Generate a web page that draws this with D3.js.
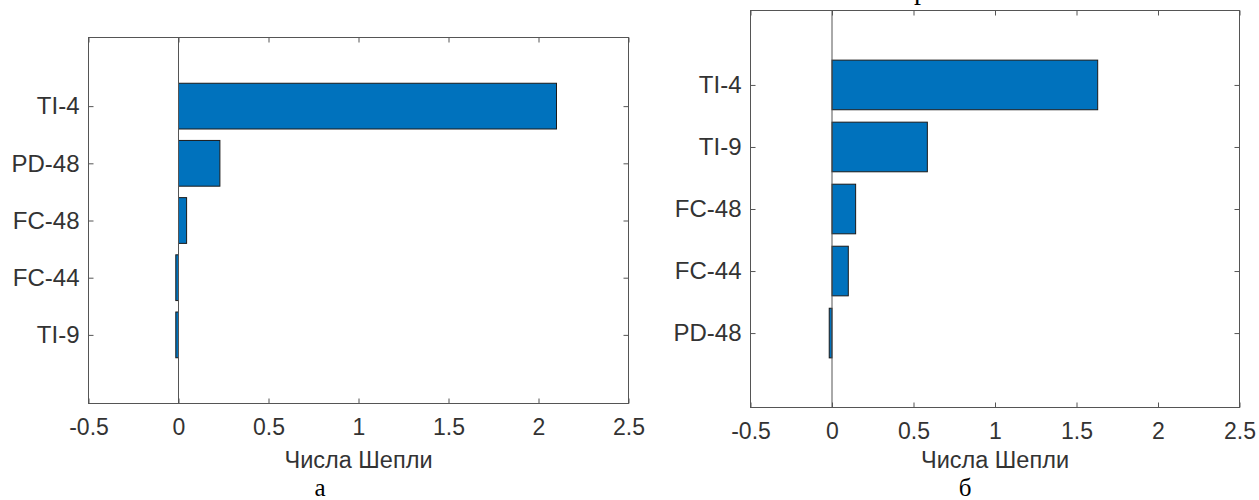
<!DOCTYPE html>
<html>
<head>
<meta charset="utf-8">
<script src="https://cdn.jsdelivr.net/npm/d3@7"></script>
<style>
  html, body { margin: 0; padding: 0; background: #fff; }
  svg { display: block; }
</style>
</head>
<body>
<svg id="chart" width="1259" height="500"></svg>
<script>
// Shapley values, panel "а"
const categoriesA = ["TI-4", "PD-48", "FC-48", "FC-44", "TI-9"];
const valuesA = [2.10, 0.23, 0.045, -0.015, -0.015];

// Shapley values, panel "б"
const categoriesB = ["TI-4", "TI-9", "FC-48", "FC-44", "PD-48"];
const valuesB = [1.63, 0.585, 0.145, 0.10, -0.017];

const xTicks = [-0.5, 0, 0.5, 1, 1.5, 2, 2.5];
const xTickLabels = ["-0.5", "0", "0.5", "1", "1.5", "2", "2.5"];
const xDomain = [-0.5, 2.5];
const axisTitle = "Числа Шепли";
const captions = ["а", "б"];

const svg = d3.select("#chart");
const axisColor = "#555";
const textColor = "#333";
const barFill = "#0072BD";
const sansFont = "'Liberation Sans', Arial, sans-serif";
const serifFont = "'Liberation Serif', 'Times New Roman', serif";

// Fragment of the page heading above the right panel
svg.append("text")
  .attr("x", 914).attr("y", -1)
  .attr("font-family", serifFont).attr("font-size", 28)
  .attr("fill", "#000")
  .text("р");

function drawPanel(box, categories, values, caption) {
  const g = svg.append("g");
  const n = categories.length;
  const x = d3.scaleLinear().domain(xDomain).range([box.left, box.right]);
  const y = d3.scaleLinear().domain([1 - 1.2, n + 1.2]).range([box.top, box.bottom]);
  const idx = d3.range(1, n + 1);
  const band = 0.8;

  // bars
  g.selectAll("rect.bar").data(values).join("rect")
    .attr("class", "bar")
    .attr("x", d => x(Math.min(0, d)))
    .attr("width", d => Math.abs(x(d) - x(0)))
    .attr("y", (d, i) => y(i + 1 - band / 2))
    .attr("height", y(band) - y(0))
    .attr("fill", barFill)
    .attr("stroke", "#1a1a1a")
    .attr("stroke-width", 1);

  // baseline at zero
  g.append("line")
    .attr("x1", x(0)).attr("x2", x(0))
    .attr("y1", box.top).attr("y2", box.bottom)
    .attr("stroke", axisColor).attr("stroke-width", 1);

  const styleAxis = size => sel => {
    sel.select(".domain").remove();
    sel.selectAll(".tick line").attr("stroke", axisColor).attr("stroke-width", 1);
    sel.selectAll(".tick text")
      .attr("fill", textColor)
      .attr("font-family", sansFont)
      .attr("font-size", size);
  };

  // bottom axis with labels
  g.append("g")
    .attr("transform", `translate(0,${box.bottom})`)
    .call(d3.axisBottom(x).tickValues(xTicks).tickSize(-5).tickPadding(15)
      .tickFormat((d, i) => xTickLabels[i]))
    .call(styleAxis(23));

  // top axis, ticks only
  g.append("g")
    .attr("transform", `translate(0,${box.top})`)
    .call(d3.axisTop(x).tickValues(xTicks).tickSize(-5).tickFormat(""))
    .call(styleAxis(23));

  // left axis with category labels
  g.append("g")
    .attr("transform", `translate(${box.left},0)`)
    .call(d3.axisLeft(y).tickValues(idx).tickSize(-5).tickPadding(9).tickFormat(i => categories[i - 1]))
    .call(styleAxis(24));

  // right axis, ticks only
  g.append("g")
    .attr("transform", `translate(${box.right},0)`)
    .call(d3.axisRight(y).tickValues(idx).tickSize(-5).tickFormat(""))
    .call(styleAxis(24));

  // frame
  g.append("rect")
    .attr("x", box.left).attr("y", box.top)
    .attr("width", box.right - box.left).attr("height", box.bottom - box.top)
    .attr("fill", "none").attr("stroke", axisColor).attr("stroke-width", 1);

  // axis title
  g.append("text")
    .attr("x", (box.left + box.right) / 2).attr("y", box.titleY)
    .attr("text-anchor", "middle")
    .attr("font-family", sansFont).attr("font-size", 23.5)
    .attr("fill", textColor)
    .text(axisTitle);

  // panel caption
  g.append("text")
    .attr("x", box.captionX).attr("y", 496)
    .attr("text-anchor", "middle")
    .attr("font-family", serifFont).attr("font-size", 25)
    .attr("fill", "#000")
    .text(caption);
}

drawPanel({ left: 88.5, right: 628.5, top: 37.5, bottom: 403.5, titleY: 468, captionX: 320 },
  categoriesA, valuesA, captions[0]);
drawPanel({ left: 750.5, right: 1239.5, top: 10.5, bottom: 407.5, titleY: 468, captionX: 965 },
  categoriesB, valuesB, captions[1]);
</script>
</body>
</html>
